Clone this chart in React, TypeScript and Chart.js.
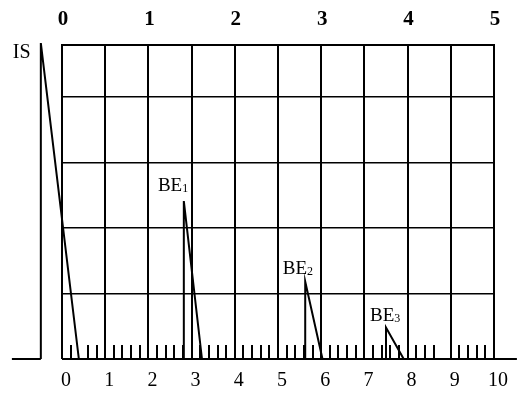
import React, { useEffect, useRef } from 'react';
import { Chart, registerables } from 'chart.js';

Chart.register(...registerables);

// Axis ticks
const bottomTicks = [0, 1, 2, 3, 4, 5, 6, 7, 8, 9, 10];
const topTicks = [0, 1, 2, 3, 4, 5];
const gridRows = [0, 1, 2, 3, 4];
const yMax = 4.79;
const minorTicks = [
  0.2, 0.6, 0.8, 1.2, 1.4, 1.6, 1.8, 2.2, 2.4, 2.6, 2.8, 3.2, 3.4, 3.6, 3.8,
  4.2, 4.4, 4.6, 4.8, 5.2, 5.4, 5.6, 5.8, 6.2, 6.4, 6.6, 6.8, 7.2, 7.4, 7.6, 7.8,
  8.2, 8.4, 8.6, 9.2, 9.4, 9.6, 9.8,
];

// Peaks (IS and the BE lines): rise position, height, end of the falling edge
const peakNames = ['IS', 'BE', 'BE', 'BE'];
const peakSubs = ['', '1', '2', '3'];
const peakX = [-0.49, 2.82, 5.63, 7.5];
const peakHeight = [4.82, 2.41, 1.18, 0.48];
const peakEndX = [0.39, 3.24, 6.03, 7.91];
const labelX = [-1.14, 2.22, 5.11, 7.13];
const labelY = [4.59, 2.56, 1.29, 0.58];

// Baseline segments
const baseStart = [-1.16, 0];
const baseEnd = [-0.49, 10.53];

const SERIF = '"Liberation Serif", "Times New Roman", "DejaVu Serif", serif';

export default function App() {
  const ref = useRef<HTMLCanvasElement | null>(null);

  useEffect(() => {
    if (!ref.current) return;

    // points listed right-to-left so the whole path is drawn, even outside the x range
    const peakSets = peakX.map((x, i) => ({
      label: peakNames[i] + peakSubs[i],
      data: [
        { x: peakEndX[i], y: 0 },
        { x, y: peakHeight[i] },
        { x, y: 0 },
      ],
      showLine: true,
      borderColor: '#000',
      borderWidth: 2,
      pointRadius: 0,
      tension: 0,
      clip: false as any,
    }));
    const baseSets = baseStart.map((s, i) => ({
      label: 'base' + i,
      data: [
        { x: baseEnd[i], y: 0 },
        { x: s, y: 0 },
      ],
      showLine: true,
      borderColor: '#000',
      borderWidth: 2,
      pointRadius: 0,
      clip: false as any,
    }));

    const annot = {
      id: 'annot',
      beforeDatasetsDraw(chart: any) {
        const { ctx, chartArea, scales } = chart;
        ctx.save();
        ctx.strokeStyle = '#000';
        ctx.lineWidth = 2;
        ctx.beginPath();
        minorTicks.forEach((v) => {
          const px = Math.round(scales.x.getPixelForValue(v));
          ctx.moveTo(px, chartArea.bottom);
          ctx.lineTo(px, chartArea.bottom - 14);
        });
        ctx.stroke();
        ctx.restore();
      },
      afterDatasetsDraw(chart: any) {
        const { ctx, scales } = chart;
        ctx.save();
        ctx.fillStyle = '#000';
        ctx.textBaseline = 'alphabetic';
        ctx.textAlign = 'left';
        peakNames.forEach((name, i) => {
          const px = scales.x.getPixelForValue(labelX[i]);
          const py = scales.y.getPixelForValue(labelY[i]);
          ctx.font = `${i === 0 ? 20 : 19}px ${SERIF}`;
          ctx.fillText(name, px, py);
          const w = ctx.measureText(name).width;
          if (peakSubs[i]) {
            ctx.font = `12px ${SERIF}`;
            ctx.fillText(peakSubs[i], px + w, py + 1);
          }
        });
        ctx.restore();
      },
    };

    const chart = new Chart(ref.current, {
      type: 'scatter',
      data: { datasets: [...baseSets, ...peakSets] as any },
      options: {
        animation: false,
        responsive: true,
        maintainAspectRatio: false,
        devicePixelRatio: 1,
        layout: { padding: { left: 0, right: 31, top: 0, bottom: 0 } },
        plugins: { legend: { display: false }, tooltip: { enabled: false } },
        scales: {
          x: {
            type: 'linear',
            position: 'bottom',
            min: 0,
            max: 10,
            afterBuildTicks: (s: any) => {
              s.ticks = bottomTicks.map((v) => ({ value: v }));
            },
            afterFit: (s: any) => {
              s.height = 35;
            },
            grid: { color: '#000', lineWidth: 2, drawTicks: false },
            border: { display: false },
            ticks: {
              color: '#000',
              font: { family: SERIF, size: 20 },
              padding: 10,
              labelOffset: 4,
              maxRotation: 0,
              autoSkip: false,
            },
          },
          x2: {
            type: 'linear',
            position: 'top',
            min: 0,
            max: 5,
            afterBuildTicks: (s: any) => {
              s.ticks = topTicks.map((v) => ({ value: v }));
            },
            afterFit: (s: any) => {
              s.height = 45;
            },
            grid: { drawOnChartArea: false, drawTicks: false },
            border: { display: true, color: '#000', width: 2 },
            ticks: {
              color: '#000',
              font: { family: SERIF, size: 21, weight: 'bold' },
              padding: 13,
              labelOffset: 1,
              maxRotation: 0,
              autoSkip: false,
            },
          },
          y: {
            type: 'linear',
            min: 0,
            max: yMax,
            afterBuildTicks: (s: any) => {
              s.ticks = gridRows.map((v) => ({ value: v }));
            },
            afterFit: (s: any) => {
              s.width = 62;
            },
            grid: { color: '#000', lineWidth: 1.5, drawTicks: false },
            border: { display: false },
            ticks: { display: false },
          },
        },
      },
      plugins: [annot],
    });

    return () => chart.destroy();
  }, []);

  return (
    <div style={{ position: 'fixed', left: 0, top: 0, width: 525, height: 394, background: '#fff' }}>
      <canvas ref={ref} />
    </div>
  );
}
